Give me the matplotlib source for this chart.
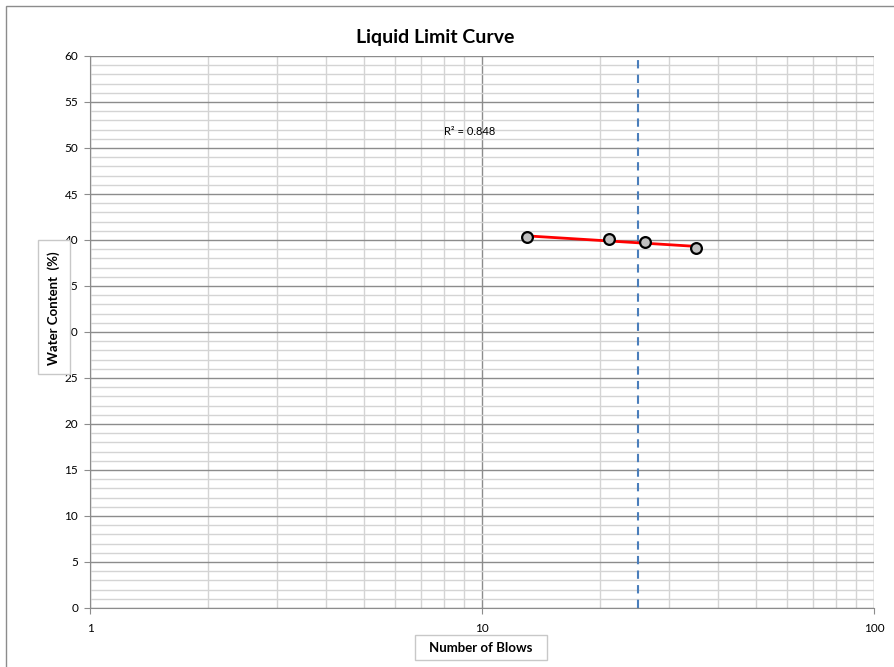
import numpy as np
import matplotlib
matplotlib.use("Agg")
import matplotlib.pyplot as plt
from matplotlib.ticker import FixedLocator, NullFormatter, FuncFormatter
from matplotlib.patches import Rectangle

# data
blows = [13.0, 21.1, 26.0, 35.2]
water_content = [40.3, 40.1, 39.8, 39.1]
liquid_limit_blows = 25
r2_label = "R² = 0.848"

plt.rcParams['font.family'] = ['Lato', 'DejaVu Sans']

fig = plt.figure(figsize=(8.94, 6.67), dpi=100)
W, H = 894, 667
ax = fig.add_axes([90 / W, 1 - 608 / H, (874 - 90) / W, (608 - 56) / H])

ax.set_xscale('log')
ax.set_xlim(1, 100)
ax.set_ylim(0, 60)

# grid
ax.xaxis.set_major_locator(FixedLocator([1, 10, 100]))
ax.xaxis.set_minor_locator(FixedLocator([k * d for d in (1, 10) for k in range(2, 10)]))
ax.xaxis.set_minor_formatter(NullFormatter())
ax.xaxis.set_major_formatter(FuncFormatter(lambda v, p: "%g" % v))
ax.yaxis.set_major_locator(FixedLocator(np.arange(0, 61, 5)))
ax.yaxis.set_minor_locator(FixedLocator(np.arange(0, 61, 1)))

ax.grid(which='minor', axis='both', color='#d4d4d4', lw=1.0)
ax.grid(which='major', axis='both', color='#8c8c8c', lw=1.0)
ax.set_axisbelow(True)
for s in ['top', 'right']:
    ax.spines[s].set_visible(False)
for s in ['left', 'bottom']:
    ax.spines[s].set_color('#8c8c8c')
ax.tick_params(which='major', length=4, color='#8c8c8c', labelsize=8.5)
ax.tick_params(which='minor', length=0)
ax.tick_params(axis='x', pad=7)
ax.tick_params(axis='y', pad=4.5)

# trend line (log fit)
coef = np.polyfit(np.log(blows), water_content, 1)
xf = np.array([min(blows), max(blows)])
ax.plot(xf, coef[0] * np.log(xf) + coef[1], color='red', lw=2, zorder=3)

ax.scatter(blows, water_content, s=60, facecolor='#c0c0c0', edgecolor='black',
           linewidths=1.6, zorder=4)

ax.axvline(liquid_limit_blows, color='#4a7ebb', lw=1.5, ls=(0, (4, 3)), zorder=2)

ax.text(9.3, 51.8, r2_label, fontsize=8, ha='center', va='center')

# titles / labels
fig.text(435 / W, 1 - 38 / H, "Liquid Limit Curve", fontsize=14, fontweight='bold',
         ha='center', va='center')
fig.text(481 / W, 1 - 648 / H, "Number of Blows", fontsize=9.5, fontweight='bold',
         ha='center', va='center')
fig.patches.append(Rectangle((415 / W, 1 - 660 / H), 132 / W, 25 / H,
                             transform=fig.transFigure, fill=False,
                             edgecolor='#c8c8c8', lw=1))
fig.patches.append(Rectangle((38 / W, 1 - 374 / H), 32 / W, 134 / H,
                             transform=fig.transFigure, facecolor='white',
                             edgecolor='#c8c8c8', lw=1, zorder=5))
fig.text(54 / W, 1 - 308 / H, "Water Content  (%)", fontsize=9.5, fontweight='bold',
         rotation=90, ha='center', va='center', zorder=6)

# outer chart border
fig.patches.append(Rectangle((6 / W, -0.1), 2, 1 - 6 / H + 0.1,
                             transform=fig.transFigure, fill=False,
                             edgecolor='#8c8c8c', lw=1))

fig.savefig("out.png", dpi=100)
